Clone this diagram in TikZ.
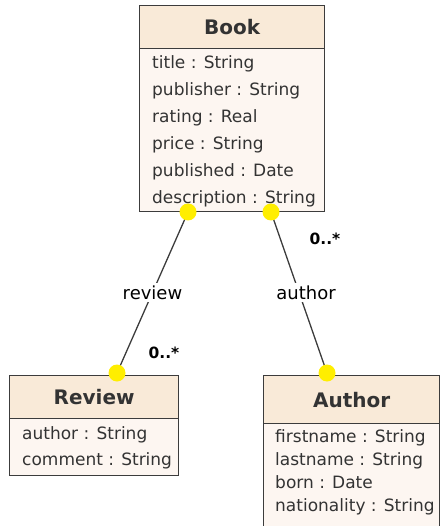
\documentclass[tikz,border=0pt]{standalone}
\usepackage{fontspec}
\setmainfont{DejaVu Sans}
\definecolor{edge}{HTML}{3C3C3C}
\definecolor{hdrfill}{HTML}{F9EAD8}
\definecolor{bodyfill}{HTML}{FDF6F1}
\definecolor{txt}{HTML}{333333}
\definecolor{dotfill}{HTML}{FFEE00}
\tikzset{
  hdr/.style={draw=edge, fill=hdrfill, line width=1.3pt, inner sep=0pt, text=txt,
    anchor=north west, font=\fontsize{20}{24}\selectfont\bfseries},
  bodybox/.style={draw=edge, fill=bodyfill, line width=1.3pt, inner sep=0pt, anchor=north west},
  attr/.style={anchor=west, inner sep=0pt, text height=12pt, text depth=0pt, text=txt,
    font=\fontsize{17}{20}\selectfont},
  assoc/.style={draw=edge, line width=1.3pt},
  lbl/.style={fill=white, inner sep=3pt, text=black, font=\fontsize{18}{20}\selectfont},
  mult/.style={inner sep=0pt, text=black, font=\fontsize{15.5}{18}\selectfont\bfseries},
  enddot/.style={circle, fill=dotfill, inner sep=0pt, minimum size=17pt}
}
\begin{document}
\begin{tikzpicture}[x=1pt, y=-1pt]
\useasboundingbox (0,0) rectangle (440,526);
\clip (0,0) rectangle (440,526);

% association ends
\coordinate (bookL) at (188,212);
\coordinate (bookR) at (271,212);
\coordinate (revTop) at (117,373);
\coordinate (autTop) at (327,373);

% associations
\draw[assoc] (bookL) -- node[lbl] (revLbl) {review} (revTop);
\draw[assoc] (bookR) -- node[lbl, xshift=7pt] (autLbl) {author} (autTop);

% Book
\node[bodybox, minimum width=185pt, minimum height=163pt] (bookBody) at (139,48) {};
\node[hdr, minimum width=185pt, minimum height=43pt] (bookHead) at (139,5) {Book};
\node[attr] (b1) at (152,63) {title : String};
\node[attr] (b2) at (152,90) {publisher : String};
\node[attr] (b3) at (152,117) {rating : Real};
\node[attr] (b4) at (152,144) {price : String};
\node[attr] (b5) at (152,171) {published : Date};
\node[attr] (b6) at (152,198) {description : String};

% Review
\node[bodybox, minimum width=169pt, minimum height=57pt] (revBody) at (9,418) {};
\node[hdr, minimum width=169pt, minimum height=43pt] (revHead) at (9,375) {Review};
\node[attr] (r1) at (22,433) {author : String};
\node[attr] (r2) at (22,459) {comment : String};

% Author
\node[bodybox, minimum width=176pt, minimum height=120pt] (autBody) at (263,423) {};
\node[hdr, minimum width=176pt, minimum height=48pt] (autHead) at (263,375) {Author};
\node[attr] (a1) at (275,436) {firstname : String};
\node[attr] (a2) at (275,459) {lastname : String};
\node[attr] (a3) at (275,482) {born : Date};
\node[attr] (a4) at (275,505) {nationality : String};

% multiplicities
\node[mult] (m1) at (325,239) {0..*};
\node[mult] (m2) at (164,353) {0..*};

% end markers
\node[enddot] (dBL) at (bookL) {};
\node[enddot] (dBR) at (bookR) {};
\node[enddot] (dRT) at (revTop) {};
\node[enddot] (dAT) at (autTop) {};
\end{tikzpicture}
\end{document}
